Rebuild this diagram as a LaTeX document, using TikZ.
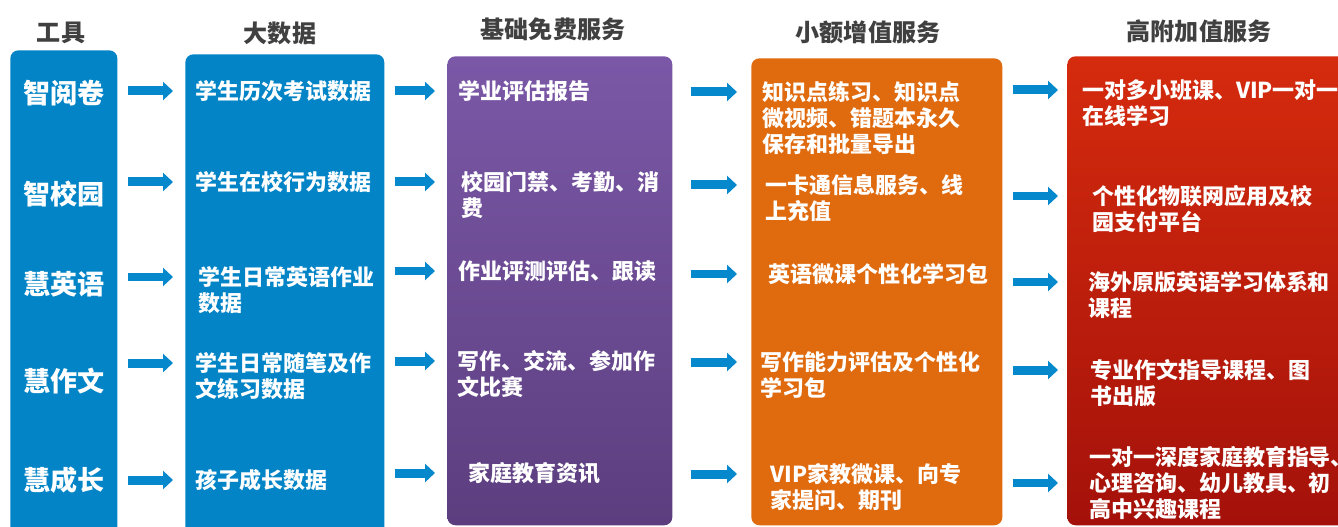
\documentclass[tikz,border=0pt]{standalone}
\usepackage{fontspec}
\setmainfont{Noto Sans CJK SC}
\usepackage{xcolor}
\usetikzlibrary{arrows.meta}
\definecolor{toolblue}{HTML}{0284C6}
\definecolor{arrowblue}{HTML}{0588CC}
\definecolor{freetop}{HTML}{7B58A7}
\definecolor{freebot}{HTML}{5C3E7F}
\definecolor{paidorange}{HTML}{E06A0E}
\definecolor{hightop}{HTML}{D52B0E}
\definecolor{highbot}{HTML}{A4110A}
\definecolor{headgray}{HTML}{404040}
\tikzstyle{panel} = [rectangle, rounded corners=0.16cm, inner sep=0pt, anchor=north west]
\tikzstyle{head} = [font=\fontsize{13.7}{16}\selectfont\bfseries, text=headgray]
\tikzstyle{tool} = [font=\fontsize{15.4}{18}\selectfont\bfseries, text=white]
\tikzstyle{item} = [anchor=north west, inner sep=0pt, align=left, text=white, font=\fontsize{12.5}{14.8}\selectfont\bfseries]
\tikzstyle{arrow} = [line width=0.18cm, arrowblue, -{Triangle[length=0.2cm,width=0.36cm]}]

\begin{document}
\begin{tikzpicture}[x=0.02cm, y=-0.02cm]
            \clip (0,0) rectangle (1338,527);
            \fill[white] (0,0) rectangle (1338,527);
            % columns
            \node(toolbox) [panel, fill=toolblue, minimum width=2.14cm, minimum height=9.9cm] at (10,50) {};
            \node(databox) [panel, fill=toolblue, minimum width=3.98cm, minimum height=9.8cm] at (185,54) {};
            \node(freebox) [panel, top color=freetop, bottom color=freebot, minimum width=4.5cm, minimum height=9.38cm] at (447,56) {};
            \node(paidbox) [panel, fill=paidorange, minimum width=5.02cm, minimum height=9.34cm] at (751,58) {};
            \node(highbox) [panel, top color=hightop, bottom color=highbot, minimum width=5.8cm, minimum height=9.38cm] at (1067,56) {};
            \node(h1) [head] at (61,33) {工具};
            \node(h2) [head] at (280,33) {大数据};
            \node(h3) [head] at (553,29) {基础免费服务};
            \node(h4) [head] at (868,32) {小额增值服务};
            \node(h5) [head] at (1199,31) {高附加值服务};
            \node(tool1) [tool] at (64,93) {智阅卷};
            \node(tool2) [tool] at (64,194) {智校园};
            \node(tool3) [tool] at (64,284) {慧英语};
            \node(tool4) [tool] at (64,381) {慧作文};
            \node(tool5) [tool] at (64,480) {慧成长};
            \node(data1) [item] at (195,80) {学生历次考试数据};
            \node(data2) [item] at (195,171) {学生在校行为数据};
            \node(data3) [item] at (198,266) {学生日常英语作业\\数据};
            \node(data4) [item] at (195,352) {学生日常随笔及作\\文练习数据};
            \node(data5) [item] at (195,469) {孩子成长数据};
            \node(free1) [item] at (458,80) {学业评估报告};
            \node(free2) [item] at (461,171) {校园门禁、考勤、消\\费};
            \node(free3) [item] at (458,260) {作业评测评估、跟读};
            \node(free4) [item] at (457,350) {写作、交流、参加作\\文比赛};
            \node(free5) [item] at (468,462) {家庭教育资讯};
            \node(paid1) [item] at (762,81) {知识点练习、知识点\\微视频、错题本永久\\保存和批量导出};
            \node(paid2) [item] at (765,174) {一卡通信息服务、线\\上充值};
            \node(paid3) [item] at (768,263) {英语微课个性化学习包};
            \node(paid4) [item] at (760,351) {写作能力评估及个性化\\学习包};
            \node(paid5) [item] at (770,463) {VIP家教微课、向专\\家提问、期刊};
            \node(high1) [item] at (1082,79) {一对多小班课、VIP一对一\\在线学习};
            \node(high2) [item] at (1092,185) {个性化物联网应用及校\\园支付平台};
            \node(high3) [item] at (1088,271) {海外原版英语学习体系和\\课程};
            \node(high4) [item] at (1090,359) {专业作文指导课程、图\\书出版};
            \node(high5) [item] at (1089,446) {一对一深度家庭教育指导、\\心理咨询、幼儿教具、初\\高中兴趣课程};
            % arrows between columns
            \foreach \i in {1,...,5} {
                \draw[arrow, shorten <=0.2cm, shorten >=0.24cm] ([yshift=-0.22cm]toolbox.east |- data\i.north) -- ([yshift=-0.22cm]databox.west |- data\i.north);
                \draw[arrow, shorten <=0.2cm, shorten >=0.24cm] ([yshift=-0.22cm]databox.east |- free\i.north) -- ([yshift=-0.22cm]freebox.west |- free\i.north);
                \draw[arrow, shorten <=0.36cm, shorten >=0.28cm] ([yshift=-0.22cm]freebox.east |- paid\i.north) -- ([yshift=-0.22cm]paidbox.west |- paid\i.north);
            }
            \foreach \i in {1,...,4}
                \draw[arrow, shorten <=0.2cm, shorten >=0.18cm] ([yshift=-0.22cm]paidbox.east |- high\i.north) -- ([yshift=-0.22cm]highbox.west |- high\i.north);
            \draw[arrow, shorten <=0.2cm, shorten >=0.18cm] (paidbox.east |- high5.center) -- (highbox.west |- high5.center);
        \end{tikzpicture}
\end{document}
